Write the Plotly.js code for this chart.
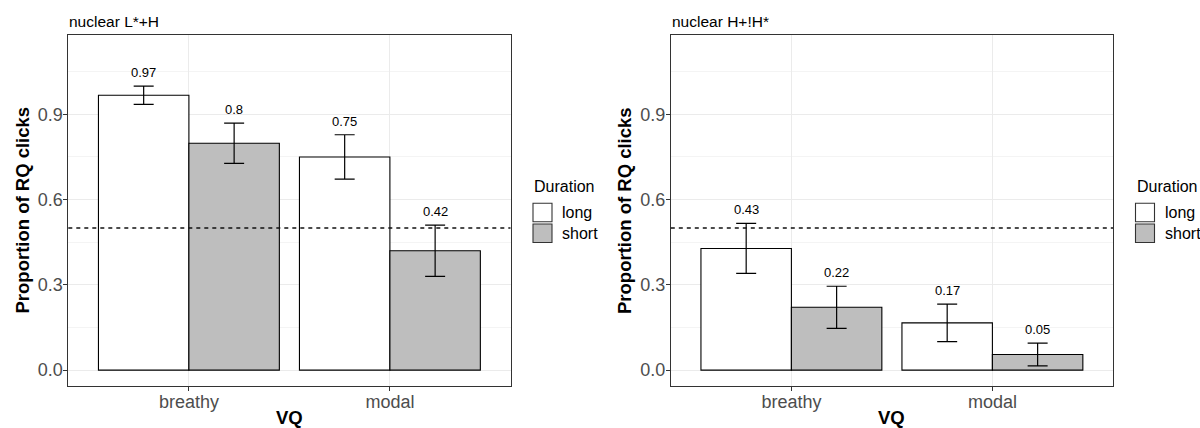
<!DOCTYPE html>
<html>
<head>
<meta charset="utf-8">
<script src="https://cdn.plot.ly/plotly-3.0.1.min.js"></script>
<style>html,body{margin:0;padding:0;background:#fff;}#chart{width:1200px;height:428px;}</style>
</head>
<body>
<div id="chart"></div>
<script>
// ---- data ----
const categories = ['breathy', 'modal'];
const durations = ['long', 'short'];
const panelTitles = ['nuclear L*+H', 'nuclear H+!H*'];
const xTitle = 'VQ';
const yTitle = 'Proportion of RQ clicks';
const legendTitle = 'Duration';
const refLine = 0.5;

// panel 1: nuclear L*+H
const p1Long = [0.967, 0.750];
const p1Short = [0.798, 0.420];
const p1LongErr = [0.032, 0.078];
const p1ShortErr = [0.071, 0.090];
const p1LongLabels = ['0.97', '0.75'];
const p1ShortLabels = ['0.8', '0.42'];

// panel 2: nuclear H+!H*
const p2Long = [0.428, 0.166];
const p2Short = [0.221, 0.055];
const p2LongErr = [0.088, 0.066];
const p2ShortErr = [0.074, 0.040];
const p2LongLabels = ['0.43', '0.17'];
const p2ShortLabels = ['0.22', '0.05'];

// ---- styling / layout ----
const W = 1200, H = 428;
const px = x => x / W;
const py = y => 1 - y / H;
const FONT = 'Liberation Sans, Arial, Helvetica, sans-serif';
const fills = ['#FFFFFF', '#BEBEBE'];

const panels = [
  {xa: 'x', ya: 'y', left: 68.3, right: 510.5, long: p1Long, short: p1Short, le: p1LongErr, se: p1ShortErr, ll: p1LongLabels, sl: p1ShortLabels, title: panelTitles[0]},
  {xa: 'x2', ya: 'y2', left: 670.8, right: 1113.0, long: p2Long, short: p2Short, le: p2LongErr, se: p2ShortErr, ll: p2LongLabels, sl: p2ShortLabels, title: panelTitles[1]}
];
const panelTop = 35, panelBottom = 386;

const traces = [];
const annotations = [];
const shapes = [];
const layout = {
  width: W, height: H,
  margin: {l: 0, r: 0, t: 0, b: 0},
  paper_bgcolor: '#fff', plot_bgcolor: '#fff',
  barmode: 'group', bargap: 0.1, bargroupgap: 0,
  showlegend: false,
  font: {family: FONT, color: '#000'},
};

panels.forEach((p, i) => {
  const sfx = i === 0 ? '' : '2';
  const vals = [p.long, p.short];
  const errs = [p.le, p.se];
  const labs = [p.ll, p.sl];
  durations.forEach((d, k) => {
    traces.push({
      type: 'bar', x: categories, y: vals[k], name: d,
      xaxis: p.xa, yaxis: p.ya,
      marker: {color: fills[k], line: {color: '#000', width: 1.1}},
      error_y: {type: 'data', array: errs[k], visible: true, color: '#000', thickness: 1.2, width: 10},
      hoverinfo: 'skip'
    });
    const barPx = 0.225 * (p.right - p.left) / 2.2;
    categories.forEach((c, j) => {
      annotations.push({
        xref: p.xa, yref: p.ya, x: c, y: vals[k][j] + errs[k][j] + 0.048,
        xshift: (k === 0 ? -1 : 1) * barPx,
        text: labs[k][j], showarrow: false, yanchor: 'middle', xanchor: 'center',
        font: {family: FONT, size: 13, color: '#000'}
      });
    });
  });

  layout['xaxis' + sfx] = {
    domain: [px(p.left), px(p.right)], anchor: p.ya, type: 'category',
    range: [-0.6, 1.6], showgrid: true, gridcolor: '#EBEBEB', gridwidth: 1.1,
    showline: true, mirror: true, linecolor: '#333333', linewidth: 1,
    ticks: 'outside', ticklen: 4, tickcolor: '#333333', tickwidth: 1,
    ticklabelstandoff: -5,
    tickfont: {family: FONT, size: 18, color: '#4D4D4D'}, zeroline: false, fixedrange: true
  };
  layout['yaxis' + sfx] = {
    domain: [py(panelBottom), py(panelTop)], anchor: p.xa,
    range: [-0.056, 1.179], tickmode: 'linear', tick0: 0, dtick: 0.3, tickformat: '.1f',
    showgrid: true, gridcolor: '#EBEBEB', gridwidth: 1.1,
    minor: {tickmode: 'linear', tick0: 0, dtick: 0.15, showgrid: true, gridcolor: '#EBEBEB', gridwidth: 0.55, ticks: ''},
    showline: true, mirror: true, linecolor: '#333333', linewidth: 1,
    ticks: 'outside', ticklen: 4, tickcolor: '#333333', tickwidth: 1,
    ticklabelstandoff: -3,
    tickfont: {family: FONT, size: 18, color: '#4D4D4D'}, zeroline: false, fixedrange: true
  };

  // reference dashed line
  shapes.push({type: 'line', xref: p.xa + ' domain', yref: p.ya, x0: 0, x1: 1, y0: refLine, y1: refLine,
    line: {color: '#111', width: 1.4, dash: '4px,4px'}, layer: 'above'});

  // panel title
  annotations.push({xref: 'paper', yref: 'paper', x: px(p.left - 1), y: py(21.7), xanchor: 'left', yanchor: 'middle',
    text: p.title, showarrow: false, font: {family: FONT, size: 15.5, color: '#000'}});
  // axis titles
  annotations.push({xref: 'paper', yref: 'paper', x: px((p.left + p.right) / 2), y: py(417.5), xanchor: 'center', yanchor: 'middle',
    text: '<b>' + xTitle + '</b>', showarrow: false, font: {family: FONT, size: 18.5, color: '#000'}});
  annotations.push({xref: 'paper', yref: 'paper', x: px(p.left - 46.3), y: py((panelTop + panelBottom) / 2), xanchor: 'center', yanchor: 'middle',
    textangle: -90, text: '<b>' + yTitle + '</b>', showarrow: false, font: {family: FONT, size: 18.5, color: '#000'}});

  // legend (drawn per panel)
  const lx = p.right + 22.5;
  annotations.push({xref: 'paper', yref: 'paper', x: px(lx - 1), y: py(186.7), xanchor: 'left', yanchor: 'middle',
    text: legendTitle, showarrow: false, font: {family: FONT, size: 16, color: '#000'}});
  const keyTops = [203.3, 224];
  durations.forEach((d, k) => {
    shapes.push({type: 'rect', xref: 'paper', yref: 'paper', x0: px(lx), x1: px(lx + 19), y0: py(keyTops[k] + 18.5), y1: py(keyTops[k]),
      fillcolor: fills[k], line: {color: '#333', width: 1.1}});
    annotations.push({xref: 'paper', yref: 'paper', x: px(lx + 27), y: py(keyTops[k] + 9.5), xanchor: 'left', yanchor: 'middle',
      text: d, showarrow: false, font: {family: FONT, size: 16, color: '#000'}});
  });
});

layout.annotations = annotations;
layout.shapes = shapes;

Plotly.newPlot('chart', traces, layout, {staticPlot: true, displayModeBar: false});
</script>
</body>
</html>
